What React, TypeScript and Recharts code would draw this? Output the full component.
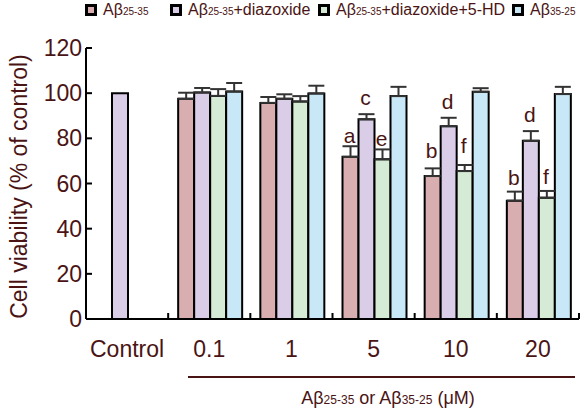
import React from "react";
import { BarChart, Bar, XAxis, YAxis, ErrorBar, LabelList } from "recharts";

const categories = ["Control", "0.1", "1", "5", "10", "20"];

// mean viability (% of control) per series, null = not tested
const abMean = [null, 97.5, 95.7, 71.8, 63.3, 52.4];
const abErr = [null, 2.7, 2.6, 4.7, 3.4, 4.0];
const diazMean = [100, 100.3, 97.5, 88.4, 85.4, 78.9];
const diazErr = [null, 2.0, 2.0, 2.3, 3.7, 4.3];
const hdMean = [null, 98.8, 96.3, 70.7, 65.5, 53.7];
const hdErr = [null, 3.0, 2.4, 4.4, 2.7, 3.0];
const revMean = [null, 100.7, 99.9, 98.7, 100.6, 99.6];
const revErr = [null, 3.8, 3.4, 4.1, 1.6, 3.2];

// significance letters
const abLetters = ["", "", "", "a", "b", "b"];
const diazLetters = ["", "", "", "c", "d", "d"];
const hdLetters = ["", "", "", "e", "f", "f"];

const yTicks = [0, 20, 40, 60, 80, 100, 120];

const TEXT = "#4a1414";
const FONT = "'Liberation Sans', Arial, sans-serif";

const series = [
  { key: "ab", err: "abErr", letter: "abL", fill: "#d8aeb0", label: ["Aβ", "25-35", ""] },
  { key: "diaz", err: "diazErr", letter: "diazL", fill: "#d9cde8", label: ["Aβ", "25-35", "+diazoxide"] },
  { key: "hd", err: "hdErr", letter: "hdL", fill: "#d5ebd5", label: ["Aβ", "25-35", "+diazoxide+5-HD"] },
  { key: "rev", err: "revErr", letter: null, fill: "#c8e7f7", label: ["Aβ", "35-25", ""] },
];

const data = categories.map((name, i) => ({
  name,
  ab: abMean[i],
  abErr: abErr[i] == null ? null : [0, abErr[i]],
  abL: abLetters[i],
  diaz: diazMean[i],
  diazErr: diazErr[i] == null ? null : [0, diazErr[i]],
  diazL: diazLetters[i],
  hd: hdMean[i],
  hdErr: hdErr[i] == null ? null : [0, hdErr[i]],
  hdL: hdLetters[i],
  rev: revMean[i],
  revErr: revErr[i] == null ? null : [0, revErr[i]],
}));

const YTick = (props: any) => {
  const { x, y, payload } = props;
  return (
    <g>
      <line x1={x + 4} x2={x + 10} y1={y} y2={y} stroke="#000" strokeWidth={2} />
      <text x={x} y={y} dy={8} textAnchor="end" fill={TEXT} fontSize={23} fontFamily={FONT}>
        {payload.value}
      </text>
    </g>
  );
};

const XTick = (props: any) => {
  const { x, y, payload } = props;
  const off = payload.offset ?? 0;
  return (
    <g>
      <line x1={x + off} x2={x + off} y1={y} y2={y - 6} stroke="#000" strokeWidth={2} />
      <text x={x} y={y + 38} textAnchor="middle" fill={TEXT} fontSize={23} fontFamily={FONT}>
        {payload.value}
      </text>
    </g>
  );
};

const YLabel = (props: any) => {
  const { viewBox } = props;
  const cx = 19;
  const cy = viewBox.y + viewBox.height / 2 + 3;
  return (
    <text
      x={cx}
      y={cy}
      transform={`rotate(-90, ${cx}, ${cy})`}
      textAnchor="middle"
      dominantBaseline="central"
      fill={TEXT}
      fontSize={23}
      fontFamily={FONT}
    >
      Cell viability (% of control)
    </text>
  );
};

// letter above the error cap
const makeLetter = (errKey: string) => (props: any) => {
  const { x, y, width, height, value, index } = props;
  if (!value) return null;
  const row: any = data[index];
  const mean = row[errKey.replace("Err", "")];
  const e = row[errKey] ? row[errKey][1] : 0;
  const capY = y - (e * height) / mean;
  return (
    <text x={x + width / 2 - 1} y={capY - 9} textAnchor="middle" fill={TEXT} fontSize={21} fontFamily={FONT}>
      {value}
    </text>
  );
};

const Legend = () => {
  const lefts = [85, 170, 318, 512];
  return (
    <>
      {series.map((s, i) => (
        <div
          key={s.key}
          style={{
            position: "absolute",
            left: lefts[i],
            top: 1,
            display: "flex",
            alignItems: "center",
            fontFamily: FONT,
            fontSize: 16,
            color: TEXT,
            whiteSpace: "nowrap",
          }}
        >
          <span
            style={{
              display: "inline-block",
              width: 6,
              height: 6,
              border: "3px solid #000",
              background: s.fill,
              marginRight: 6,
            }}
          />
          <span>
            {s.label[0]}
            <span style={{ fontSize: 10 }}>{s.label[1]}</span>
            {s.label[2]}
          </span>
        </div>
      ))}
    </>
  );
};

export default function App() {
  return (
    <div style={{ position: "relative", width: 587, height: 413, background: "#fff" }}>
      <style>{"body{margin:0}"}</style>
      <Legend />
      <BarChart
        width={587}
        height={413}
        data={data}
        margin={{ top: 48, right: 8, bottom: 0, left: 0 }}
        barCategoryGap={10}
        barGap={0}
      >
        <YAxis
          width={86}
          domain={[0, 120]}
          ticks={yTicks}
          interval={0}
          tickSize={0}
          tickMargin={4}
          tick={<YTick />}
          axisLine={{ stroke: "#000", strokeWidth: 2 }}
          tickLine={false}
          label={<YLabel />}
        />
        <XAxis
          dataKey="name"
          height={94}
          interval={0}
          tickSize={0}
          tickMargin={0}
          tick={<XTick />}
          axisLine={{ stroke: "#000", strokeWidth: 2 }}
          tickLine={false}
        />
        {series.map((s) => (
          <Bar key={s.key} dataKey={s.key} fill={s.fill} stroke="#000" strokeWidth={2} isAnimationActive={false}>
            <ErrorBar dataKey={s.err} width={8} stroke="#333" strokeWidth={2} direction="y" />
            {s.letter && <LabelList dataKey={s.letter} content={makeLetter(s.err)} />}
          </Bar>
        ))}
      </BarChart>
      <div style={{ position: "absolute", left: 188, top: 376, width: 387, height: 2, background: TEXT }} />
      <div
        style={{
          position: "absolute",
          left: 238,
          top: 388,
          width: 300,
          textAlign: "center",
          fontFamily: FONT,
          fontSize: 18,
          color: TEXT,
          whiteSpace: "nowrap",
        }}
      >
        Aβ<span style={{ fontSize: 12 }}>25-35</span> or Aβ<span style={{ fontSize: 12 }}>35-25</span> (μM)
      </div>
    </div>
  );
}
